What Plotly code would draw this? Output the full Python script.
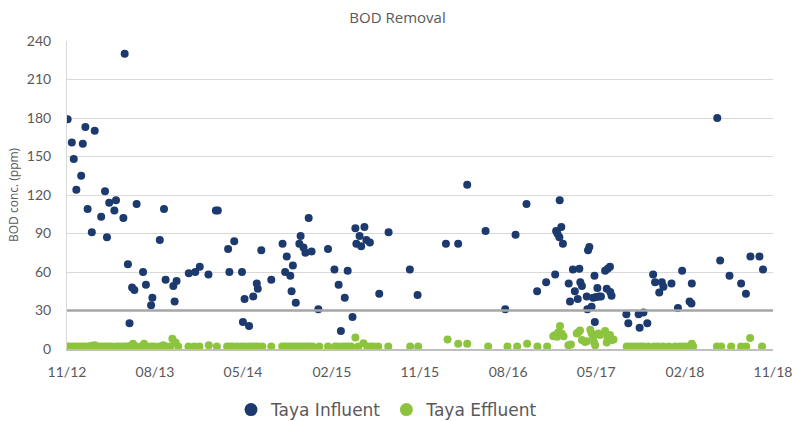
import plotly.graph_objects as go

# ---------------- data ----------------
influent_dates = [
    "2012-11-03", "2012-11-16", "2012-11-22", "2012-11-30", "2012-12-15", "2012-12-20", "2012-12-28",
    "2013-01-04", "2013-01-17", "2013-01-26", "2013-02-15", "2013-02-27", "2013-03-05", "2013-03-12",
    "2013-03-28", "2013-04-02", "2013-04-25", "2013-04-29", "2013-05-09", "2013-05-14", "2013-05-22",
    "2013-05-29", "2013-06-05", "2013-06-25", "2013-07-04", "2013-07-20", "2013-07-24", "2013-08-16",
    "2013-08-29", "2013-09-03", "2013-09-27", "2013-10-01", "2013-10-07", "2013-11-14", "2013-12-04",
    "2013-12-18", "2014-01-14", "2014-02-06", "2014-02-12", "2014-03-16", "2014-03-20", "2014-04-04",
    "2014-04-28", "2014-05-01", "2014-05-06", "2014-05-20", "2014-06-02", "2014-06-13", "2014-06-16",
    "2014-06-27", "2014-07-28", "2014-09-01", "2014-09-09", "2014-09-14", "2014-09-25", "2014-09-29",
    "2014-10-03", "2014-10-12", "2014-10-23", "2014-10-27", "2014-11-05", "2014-11-11", "2014-11-21",
    "2014-11-30", "2014-12-21", "2015-01-20", "2015-02-09", "2015-02-22", "2015-03-01", "2015-03-13",
    "2015-03-22", "2015-04-06", "2015-04-15", "2015-04-18", "2015-04-28", "2015-05-03", "2015-05-13",
    "2015-05-19", "2015-05-30", "2015-06-28", "2015-07-27", "2015-10-01", "2015-10-25", "2016-01-21",
    "2016-02-28", "2016-03-27", "2016-05-23", "2016-07-23", "2016-08-24", "2016-09-27", "2016-10-30",
    "2016-11-27", "2016-12-25", "2016-12-28", "2017-01-01", "2017-01-07", "2017-01-08", "2017-01-13",
    "2017-01-18", "2017-02-05", "2017-02-09", "2017-02-18", "2017-02-24", "2017-03-05", "2017-03-10",
    "2017-03-13", "2017-03-18", "2017-04-02", "2017-04-04", "2017-04-06", "2017-04-10", "2017-04-17",
    "2017-04-22", "2017-04-26", "2017-04-27", "2017-05-01", "2017-05-05", "2017-05-10", "2017-05-16",
    "2017-05-29", "2017-06-03", "2017-06-06", "2017-06-13", "2017-06-14", "2017-06-18", "2017-08-03",
    "2017-08-09", "2017-09-10", "2017-09-13", "2017-09-25", "2017-10-07", "2017-10-25", "2017-10-31",
    "2017-11-13", "2017-11-21", "2017-11-26", "2017-12-21", "2018-01-10", "2018-01-23", "2018-02-15",
    "2018-02-21", "2018-02-22", "2018-05-12", "2018-05-21", "2018-06-19", "2018-07-25", "2018-08-09",
    "2018-08-23", "2018-09-20", "2018-10-01",
]
influent_values = [
    179, 161, 148, 124, 135, 160, 173,
    109, 91, 170, 103, 123, 87, 114,
    108, 116, 102, 230, 66, 20, 48,
    46, 113, 60, 50, 34, 40, 85,
    109, 54, 49, 37, 53, 59, 60,
    64, 58, 108, 108, 78, 60, 84,
    60, 21, 39, 18, 41, 51, 47,
    77, 54, 82, 60, 72, 57, 45,
    65, 36, 82, 88, 79, 75, 102,
    76, 31, 78, 62, 50, 14, 40,
    61, 25, 94, 82, 88, 80, 95,
    85, 83, 43, 91, 62, 42, 82,
    82, 128, 92, 31, 89, 113, 45,
    52, 58, 92, 90, 87, 116, 95,
    82, 51, 37, 62, 45, 39, 62.5,
    52, 49, 41, 31, 77, 79.5, 33,
    40, 57, 21, 40.5, 47.5, 41, 41,
    61, 47, 62.5, 64, 44.5, 41.5, 27,
    20, 27, 16.5, 28.5, 20, 58, 52,
    44, 52, 48.5, 51, 32, 61, 37,
    35.5, 51, 180, 69, 57, 51, 43,
    72, 72, 62,
]

effluent_dates = [
    "2012-11-02", "2012-11-11", "2012-11-21", "2012-11-30", "2012-12-09", "2012-12-19", "2012-12-28",
    "2013-01-07", "2013-01-16", "2013-01-26", "2013-02-03", "2013-02-13", "2013-02-22", "2013-03-02",
    "2013-03-11", "2013-03-20", "2013-04-03", "2013-04-11", "2013-04-22", "2013-05-01", "2013-05-10",
    "2013-05-18", "2013-05-25", "2013-06-03", "2013-06-19", "2013-06-28", "2013-07-08", "2013-07-21",
    "2013-07-30", "2013-08-15", "2013-08-27", "2013-09-05", "2013-09-17", "2013-09-24", "2013-10-04",
    "2013-10-12", "2013-11-13", "2013-12-01", "2013-12-17", "2014-01-15", "2014-02-09", "2014-03-13",
    "2014-03-22", "2014-04-01", "2014-04-13", "2014-04-26", "2014-05-05", "2014-05-18", "2014-05-29",
    "2014-06-08", "2014-06-17", "2014-06-30", "2014-07-28", "2014-08-31", "2014-09-09", "2014-09-18",
    "2014-09-28", "2014-10-07", "2014-10-17", "2014-10-26", "2014-11-04", "2014-11-14", "2014-11-23",
    "2014-12-03", "2014-12-24", "2015-01-20", "2015-02-11", "2015-02-20", "2015-03-05", "2015-03-14",
    "2015-03-23", "2015-04-02", "2015-04-15", "2015-04-24", "2015-05-10", "2015-05-22", "2015-06-01",
    "2015-06-10", "2015-06-25", "2015-07-26", "2015-10-02", "2015-10-27", "2016-01-26", "2016-02-28",
    "2016-03-27", "2016-05-31", "2016-07-30", "2016-08-29", "2016-09-29", "2016-10-31", "2016-11-30",
    "2016-12-19", "2016-12-25", "2016-12-31", "2017-01-04", "2017-01-09", "2017-01-14", "2017-01-20",
    "2017-02-04", "2017-02-12", "2017-03-02", "2017-03-07", "2017-03-12", "2017-03-18", "2017-03-28",
    "2017-04-02", "2017-04-13", "2017-04-17", "2017-04-22", "2017-04-25", "2017-04-28", "2017-05-08",
    "2017-05-13", "2017-05-29", "2017-06-03", "2017-06-05", "2017-06-13", "2017-06-19", "2017-06-24",
    "2017-08-04", "2017-08-14", "2017-08-24", "2017-09-05", "2017-09-15", "2017-09-24", "2017-10-10",
    "2017-10-28", "2017-11-09", "2017-11-25", "2017-12-13", "2018-01-01", "2018-01-16", "2018-01-26",
    "2018-02-06", "2018-02-22", "2018-02-26", "2018-05-11", "2018-05-24", "2018-06-24", "2018-07-25",
    "2018-08-10", "2018-08-22", "2018-09-28",
]
effluent_values = [
    2, 2, 2, 2, 2, 2, 2,
    2, 2.5, 3, 2, 2, 2, 2,
    2, 2, 2, 2, 2, 2, 2,
    2.5, 4, 2, 2, 4, 2, 2,
    2, 2, 3, 2, 2, 8, 5,
    2, 2, 2, 2, 3, 2, 2,
    2, 2, 2, 2, 2, 2, 2,
    2, 2, 2, 2, 2, 2, 2,
    2, 2, 2, 2, 2, 2, 2,
    2, 2, 2, 2, 2, 2, 2,
    2, 2, 9, 2, 4.5, 2, 2,
    2, 2, 2, 2, 2, 7.5, 4,
    4, 2, 2, 2, 4, 2, 2,
    10, 11, 9.5, 13, 18, 12, 10,
    3, 3.5, 12, 13, 14.5, 7, 5.5,
    6, 15, 12, 9.5, 5, 3, 12,
    11, 14, 5, 9, 11, 7, 7.5,
    2, 2, 2, 2, 2, 2, 2,
    2, 2, 2, 2, 2, 2, 2,
    2, 4, 2, 2, 2, 2, 2,
    2, 8.5, 2,
]

THRESHOLD = 30
X_START, X_END = "2012-11-01", "2018-11-01"
Y_MIN, Y_MAX, Y_STEP = 0, 240, 30

series_names = ["Taya Influent", "Taya Effluent"]
INFLUENT_COLOR = "#1c3a6e"
EFFLUENT_COLOR = "#8cc43f"
TEXT_COLOR = "#595959"

W, H = 795, 421

# ---------------- figure ----------------
fig = go.Figure()

fig.add_trace(go.Scatter(
    x=influent_dates, y=influent_values, mode="markers", name=series_names[0],
    marker=dict(color=INFLUENT_COLOR, size=8, line=dict(width=0)), showlegend=False,
))
fig.add_trace(go.Scatter(
    x=effluent_dates, y=effluent_values, mode="markers", name=series_names[1],
    marker=dict(color=EFFLUENT_COLOR, size=8, line=dict(width=0)), showlegend=False,
))
# legend entries (larger symbols like the original)
for nm, col in zip(series_names, [INFLUENT_COLOR, EFFLUENT_COLOR]):
    fig.add_trace(go.Scatter(
        x=[None], y=[None], mode="markers", name=nm,
        marker=dict(color=col, size=13), showlegend=True,
    ))

# threshold line
fig.add_shape(type="line", xref="paper", x0=0, x1=1, yref="y", y0=THRESHOLD, y1=THRESHOLD,
              line=dict(color="#a6a6a6", width=2.5), layer="above")

fig.update_layout(
    width=W, height=H,
    margin=dict(l=67, r=22, t=41, b=72, autoexpand=False),
    paper_bgcolor="white", plot_bgcolor="white",
    font=dict(family="Lato, sans-serif", color=TEXT_COLOR),
    title=dict(text="BOD Removal", x=0.5, xref="container", xanchor="center",
               y=1 - 18 / H, yref="container", yanchor="middle",
               font=dict(family="Open Sans, sans-serif", size=15, color=TEXT_COLOR)),
    showlegend=True,
    legend=dict(orientation="h", x=387 / W, xref="container", xanchor="center",
                y=1 - 410 / H, yref="container", yanchor="middle",
                font=dict(family="DejaVu Sans, sans-serif", size=17, color=TEXT_COLOR),
                itemsizing="trace", bgcolor="rgba(0,0,0,0)", tracegroupgap=0),
    xaxis=dict(
        type="date", range=[X_START, X_END],
        tick0=X_START, dtick="M9", tickformat="%m/%y",
        showgrid=False, zeroline=False,
        showline=True, linecolor="#bfbfbf", linewidth=1.5,
        ticks="outside", ticklen=9, tickcolor="rgba(0,0,0,0)",
        tickfont=dict(size=14, color=TEXT_COLOR, family="Lato, sans-serif"),
    ),
    yaxis=dict(
        range=[Y_MIN, Y_MAX], tick0=Y_MIN, dtick=Y_STEP,
        showgrid=True, gridcolor="#d9d9d9", gridwidth=1,
        zeroline=False, showline=True, linecolor="#d9d9d9", linewidth=1,
        ticks="outside", ticklen=12, tickcolor="rgba(0,0,0,0)",
        tickfont=dict(size=14, color=TEXT_COLOR, family="Lato, sans-serif"),
    ),
    annotations=[dict(
        text="BOD conc. (ppm)", xref="paper", yref="paper",
        x=(13 - 67) / 706, y=0.5, xanchor="center", yanchor="middle",
        textangle=-90, showarrow=False,
        font=dict(family="Open Sans, sans-serif", size=12, color=TEXT_COLOR),
    )],
)

fig.write_html("out.html", config={"displayModeBar": False},
               post_script="document.body.style.margin='0px';")
